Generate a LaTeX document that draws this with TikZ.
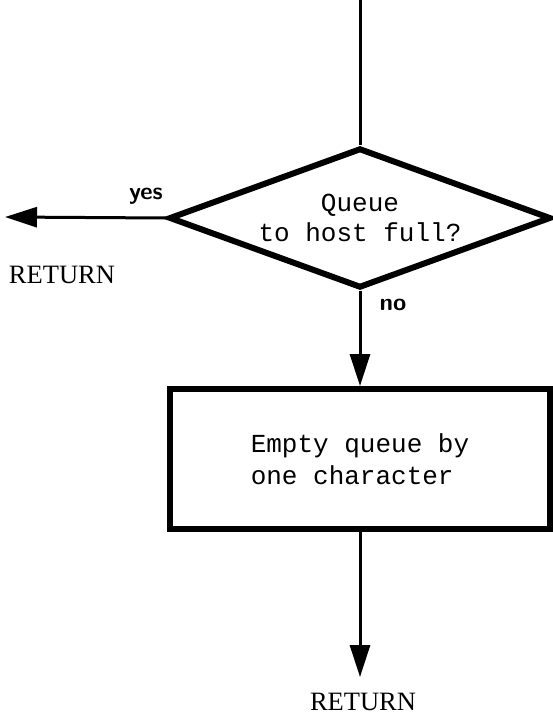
\documentclass[tikz,border=0pt]{standalone}
\usepackage{fontspec}
\setmainfont{Liberation Serif}
\setmonofont{Liberation Mono}
\usepackage{tikz}
\usetikzlibrary{shapes.geometric,arrows.meta,positioning}

\begin{document}
\begin{tikzpicture}[x=1pt,y=-1pt,
  decision/.style={diamond,draw,line width=6pt,aspect=2.73,minimum width=382pt,minimum height=140pt,
    inner sep=0pt,align=center,font=\fontsize{26}{30}\ttfamily},
  process/.style={rectangle,draw,line width=6pt,minimum width=380pt,minimum height=140pt,
    align=left,font=\fontsize{26}{32}\ttfamily},
  flow/.style={line width=3pt,-{Triangle[length=32pt,width=20pt]}},
  ret/.style={font=\fontsize{26.5}{30}\selectfont},
  hand/.style={font=\fontsize{24}{24}\selectfont\sffamily\bfseries}]

\useasboundingbox (0,0) rectangle (553,717);

% Decision
\coordinate (entry) at (360,0);
\node[decision] (test) at (360,218) {Queue\\to host full?};
\draw[line width=3pt] (entry) -- (test.north);

% Yes branch
\coordinate (yesend) at (5,217);
\draw[flow] (test.west) -- (yesend);
\node[hand] (yes) at (146,196) {yes};
\node[ret] (retleft) at (62,275) {RETURN};

% No branch
\node[process] (empty) at (360,459) {Empty queue by\\one character};
\draw[flow] (test.south) -- (empty.north);
\node[hand] (no) at (393,305) {no};

% Exit
\coordinate (doneend) at (360,677);
\draw[flow] (empty.south) -- (doneend);
\node[ret] (retdown) at (363,702) {RETURN};

\end{tikzpicture}
\end{document}
